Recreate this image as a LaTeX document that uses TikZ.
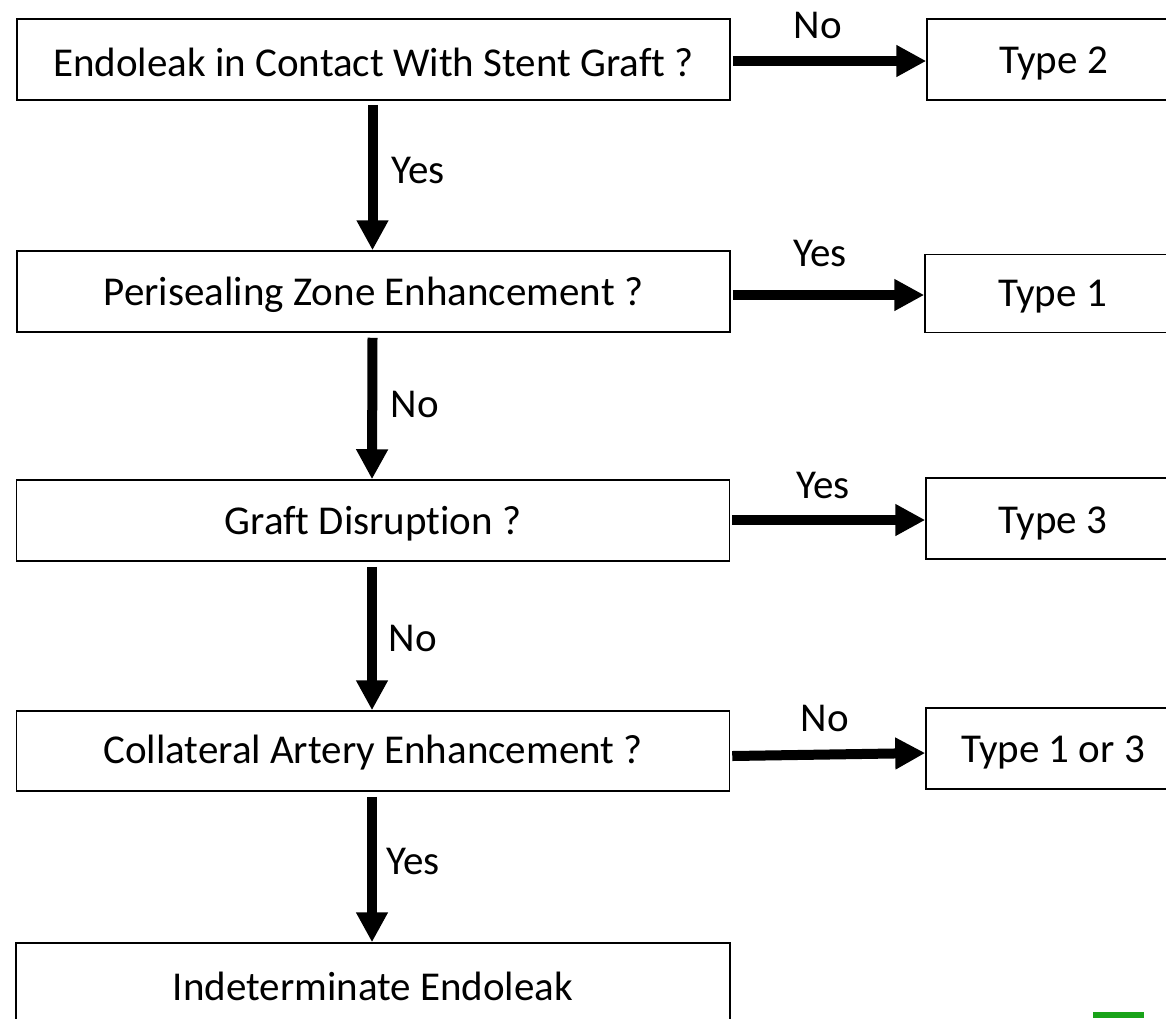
\documentclass[tikz,border=0pt]{standalone}
\usepackage{fontspec}
\setmainfont{Carlito}[Ligatures={NoCommon}]
\usetikzlibrary{arrows.meta}
\tikzset{
  box/.style={draw=black, line width=1.5pt, inner sep=0pt, font=\fontsize{41}{49}\selectfont},
  arr/.style={line width=10pt, -{Triangle[length=30pt,width=30pt]}},
  lbl/.style={inner sep=0pt, font=\fontsize{41}{49}\selectfont}
}
\newcommand{\lowr}[2][3pt]{\raisebox{-#1}[\height][\depth]{#2}}
\begin{document}
\begin{tikzpicture}[x=1pt,y=-1pt]
\clip (0,0) rectangle (1166,1018);
\fill[white] (0,0) rectangle (1166,1018);
% left column
\node[box, minimum width=713pt, minimum height=81pt] (q1) at (373.5,59.5) {\lowr{Endoleak in Contact With Stent Graft ?}};
\node[box, minimum width=713pt, minimum height=81pt] (q2) at (373.5,291.5) {\lowr{Perisealing Zone Enhancement ?}};
\node[box, minimum width=713pt, minimum height=81pt] (q3) at (373,520.5) {\lowr{Graft Disruption ?}};
\node[box, minimum width=713pt, minimum height=80pt] (q4) at (373,751) {\lowr[2pt]{Collateral Artery Enhancement ?}};
\node[box, minimum width=714pt, minimum height=88pt] (q5) at (373,987) {\lowr[-1pt]{Indeterminate Endoleak}};
% right column
\node[box, minimum width=253pt, minimum height=81pt] (t2) at (1053.5,59.5) {\lowr[4pt]{Type 2}};
\node[box, minimum width=255pt, minimum height=78pt] (t1) at (1052.5,293.5) {\lowr[3pt]{Type 1}};
\node[box, minimum width=254pt, minimum height=81pt] (t3) at (1053,518.5) {\lowr[5pt]{Type 3}};
\node[box, minimum width=254pt, minimum height=81pt] (t13) at (1053,748.5) {\lowr[4pt]{Type 1 or 3}};
% arrows
\draw[arr] ([xshift=2pt,yshift=-1.5pt]q1.east) -- ([yshift=-1.5pt]t2.west);
\draw[arr] ([xshift=2pt,yshift=-3.5pt]q2.east) -- ([yshift=-1.5pt]t1.west);
\draw[arr] ([xshift=2pt,yshift=0.5pt]q3.east) -- ([yshift=-1.5pt]t3.west);
\draw[arr] ([xshift=2pt,yshift=-5pt]q4.east) -- ([yshift=-4.5pt]t13.west);
\draw[arr] ([xshift=-1pt,yshift=-4pt]q1.south) -- ([xshift=-1pt]q2.north);
\draw[arr] ([xshift=-1pt,yshift=-5pt]q2.south) -- ([xshift=-1pt]q3.north);
\draw[arr] ([xshift=-1pt,yshift=-5pt]q3.south) -- ([xshift=-1pt]q4.north);
\draw[arr] ([xshift=-1pt,yshift=-5pt]q4.south) -- ([xshift=-1pt]q5.north);
% labels
\node[lbl] (l1) at (818,25) {No};
\node[lbl] (l2) at (820,253) {Yes};
\node[lbl] (l3) at (823,485) {Yes};
\node[lbl] (l4) at (825,718) {No};
\node[lbl] (l5) at (418,170) {Yes};
\node[lbl] (l6) at (415,404) {No};
\node[lbl] (l7) at (413,638) {No};
\node[lbl] (l8) at (413,861) {Yes};
% cropped logo fragment
\fill[green!60!black!90] (1093,1012) rectangle (1144,1018);
\end{tikzpicture}
\end{document}
